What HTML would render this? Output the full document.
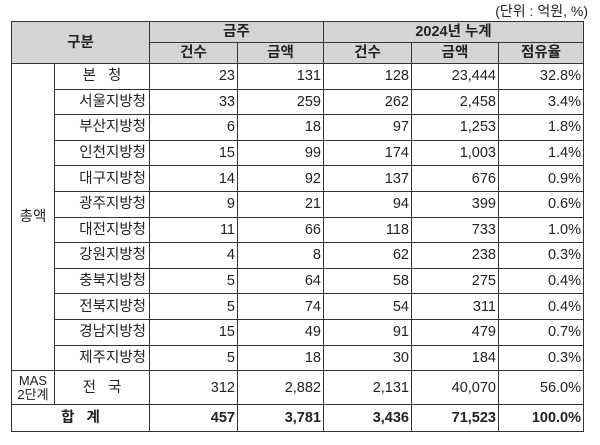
<!DOCTYPE html>
<html><head><meta charset="utf-8"><style>
body{margin:0;width:600px;height:445px;background:#fff;position:relative;font-family:"Liberation Sans","Noto Sans CJK KR",sans-serif;color:#222}
.unit{position:absolute;right:12px;top:1px;font-size:14px}
table{position:absolute;left:11px;top:21px;border-collapse:collapse;table-layout:fixed;font-size:14.5px}
td{border:1px solid #333;padding:0 2px;height:24.6px;line-height:16px;text-align:right;white-space:nowrap;overflow:hidden}
.h td{background:#d4d4d4;text-align:center;font-weight:bold;font-size:14.5px;height:20px}
td.n{text-align:right;padding-right:3px}
td.c{text-align:center}
.tot td{font-weight:bold;height:26px}
</style></head><body>
<div class="unit">(단위 : 억원, %)</div>
<table>
<colgroup><col style="width:43px"><col style="width:95px"><col style="width:88px"><col style="width:86px"><col style="width:88px"><col style="width:87px"><col style="width:85px"></colgroup>
<tr class="h"><td colspan="2" rowspan="2">구분</td><td colspan="2">금주</td><td colspan="3">2024년 누계</td></tr>
<tr class="h"><td>건수</td><td>금액</td><td>건수</td><td>금액</td><td>점유율</td></tr>
<tr><td rowspan="12" class="c">총액</td><td class="c">본 &nbsp; 청</td><td>23</td><td>131</td><td>128</td><td>23,444</td><td>32.8%</td></tr>
<tr><td class="n">서울지방청</td><td>33</td><td>259</td><td>262</td><td>2,458</td><td>3.4%</td></tr>
<tr><td class="n">부산지방청</td><td>6</td><td>18</td><td>97</td><td>1,253</td><td>1.8%</td></tr>
<tr><td class="n">인천지방청</td><td>15</td><td>99</td><td>174</td><td>1,003</td><td>1.4%</td></tr>
<tr><td class="n">대구지방청</td><td>14</td><td>92</td><td>137</td><td>676</td><td>0.9%</td></tr>
<tr><td class="n">광주지방청</td><td>9</td><td>21</td><td>94</td><td>399</td><td>0.6%</td></tr>
<tr><td class="n">대전지방청</td><td>11</td><td>66</td><td>118</td><td>733</td><td>1.0%</td></tr>
<tr><td class="n">강원지방청</td><td>4</td><td>8</td><td>62</td><td>238</td><td>0.3%</td></tr>
<tr><td class="n">충북지방청</td><td>5</td><td>64</td><td>58</td><td>275</td><td>0.4%</td></tr>
<tr><td class="n">전북지방청</td><td>5</td><td>74</td><td>54</td><td>311</td><td>0.4%</td></tr>
<tr><td class="n">경남지방청</td><td>15</td><td>49</td><td>91</td><td>479</td><td>0.7%</td></tr>
<tr><td class="n">제주지방청</td><td>5</td><td>18</td><td>30</td><td>184</td><td>0.3%</td></tr>
<tr><td class="c" style="height:33px;line-height:14px;font-size:13px">MAS<br>2단계</td><td class="c">전 &nbsp; 국</td><td>312</td><td>2,882</td><td>2,131</td><td>40,070</td><td>56.0%</td></tr>
<tr class="tot"><td colspan="2" class="c">합 &nbsp; 계</td><td>457</td><td>3,781</td><td>3,436</td><td>71,523</td><td>100.0%</td></tr>
</table>
</body></html>
